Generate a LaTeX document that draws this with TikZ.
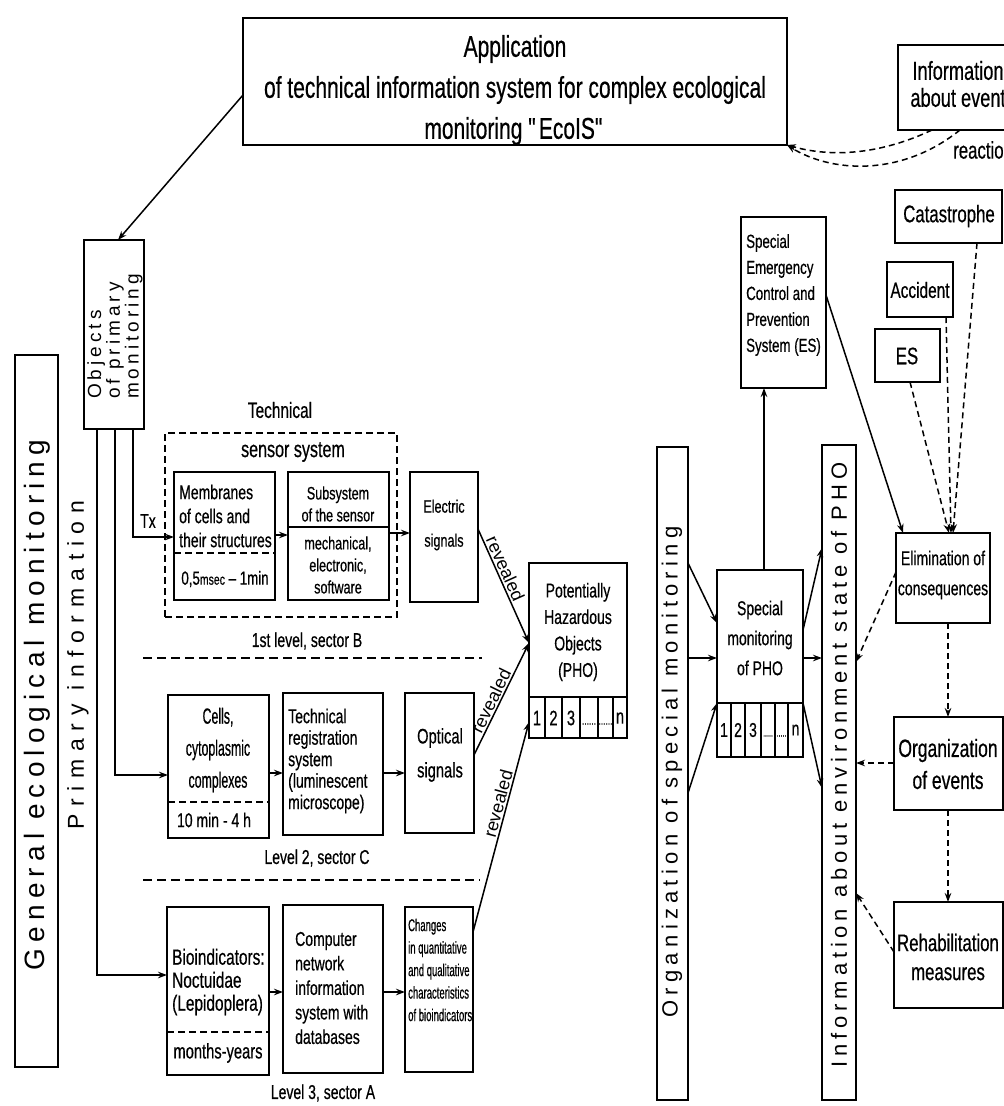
\documentclass[tikz,border=0pt]{standalone}
\usepackage{fontspec}
\setmainfont{Liberation Sans}[FakeStretch=0.7,FakeBold=0.5]
\newfontfamily\wide{Liberation Sans}
\newfontfamily\nrw{Liberation Sans}[FakeStretch=0.56,FakeBold=0.5]
\newfontfamily\spG{Liberation Sans}[LetterSpace=22]
\newfontfamily\spP{Liberation Sans}[LetterSpace=33]
\newfontfamily\spO{Liberation Sans}[LetterSpace=24]
\newfontfamily\spI{Liberation Sans}[LetterSpace=22]
\newfontfamily\spB{Liberation Sans}[LetterSpace=21]
\usetikzlibrary{arrows.meta}
\newcommand\fz[2]{\fontsize{#1}{#2}\selectfont}
\newcommand\bx[6][]{\node[box,#1,minimum width={(#5)-(#3)},minimum height={(#6)-(#4)}] (#2) at ({((#3)+(#5))/2},{((#4)+(#6))/2}) {};}
\tikzset{
  box/.style={draw, line width=2.7pt, inner sep=0pt, outer sep=0pt},
  txt/.style={inner sep=0pt, align=center},
  conn/.style={line width=1.5pt, -{Stealth[length=9pt,width=6.5pt]}},
  dconn/.style={conn, dash pattern=on 6pt off 4pt},
  hsep/.style={line width=2.5pt, dash pattern=on 9pt off 5pt},
  isep/.style={line width=2pt, dash pattern=on 7pt off 4pt},
  rev/.style={font=\wide\fz{18}{18}, inner sep=1.5pt},
}
\begin{document}
\begin{tikzpicture}[x=1pt,y=-1pt]
\useasboundingbox (0,0) rectangle (1004,1106);
\clip (0,0) rectangle (1004,1106);
\fill[white] (0,0) rectangle (1004,1106);

% ---- title and top right
\bx{title}{243}{18}{787}{145}
\node[txt, font=\fz{30}{41}] (title-t) at (515,90) {Application\\of technical information system for complex ecological\\monitoring \textquotedbl EcoIS\textquotedbl};
\bx{info}{898}{45}{1014}{130}
\node[txt, font=\fz{26}{27}] (info-t) at (958,84) {Information\\about event};
\node[txt, anchor=west, font=\fz{24}{24}] (react) at (953,150) {reaction};
\draw[dconn] ([xshift=34pt]info.south west) .. controls (890,150) and (840,160) .. (title.south east);
\draw[dconn] ([xshift=62pt]info.south west) .. controls (900,178) and (830,172) .. (title.south east);

% ---- left column
\bx{obj}{84}{240}{144}{429}
\node[txt, rotate=90, align=left, anchor=west, font=\spB\fz{19}{17.5}] (obj-t) at (115,399) {Objects\\of primary\\monitoring};
\draw[conn] (title.west |- 0,95) -- (obj.north -| 118,0);
\bx{gen}{15}{355}{58}{1067}
\node[txt, rotate=90, font=\spG\fz{28}{28}] (gen-t) at (37,705) {General ecological monitoring};
\node[txt, rotate=90, font=\spP\fz{23}{23}] (prim-t) at (78,665) {Primary information};

% ---- level 1
\node[txt, font=\fz{22}{22}] (tech-t) at (280,410) {Technical};
\bx[dash pattern=on 7pt off 4pt]{sensor}{165}{433}{397}{617}
\node[txt, font=\fz{23}{23}] (sens-t) at (293,452) {sensor system};
\bx{memb}{174}{472}{275}{600}
\draw[isep] (memb.west |- 0,553) -- (memb.east |- 0,553);
\node[txt, align=left, anchor=west, font=\fz{20}{24}] (memb-t) at (179,516) {Membranes\\of cells and\\their structures};
\node[txt, font=\fz{19}{19}] (memb-b) at (225,579) {0,5{\fz{15}{15}msec} – 1min};
\bx{subs}{288}{472}{389}{600}
\draw[line width=1.5pt] (subs.west |- 0,527) -- (subs.east |- 0,527);
\node[txt, font=\fz{18}{22}] (subs-t) at (338,504) {Subsystem\\of the sensor};
\node[txt, font=\fz{18}{22}] (subs-b) at (338,565) {mechanical,\\electronic,\\software};
\bx{elec}{410}{472}{478}{602}
\node[txt, font=\fz{18}{34}] (elec-t) at (444,525) {Electric\\signals};
\draw[conn] (obj.south -| 133,0) |- (memb.west |- 0,537);
\node[txt, font=\fz{20}{20}] (tx) at (148,521) {Tx};
\draw[conn] (memb.east |- 0,535) -- (subs.west |- 0,535);
\draw[conn] (subs.east |- 0,533) -- (elec.west |- 0,533);
\node[txt, font=\fz{20}{20}] (lev1) at (307,641) {1st level, sector B};
\draw[hsep] (143,658) -- (482,658);

% ---- level 2
\bx{cells}{168}{695}{269}{838}
\draw[isep] (cells.west |- 0,802) -- (cells.east |- 0,802);
\node[txt, font=\nrw\fz{22}{32}] (cells-t) at (218,750) {Cells,\\cytoplasmic\\complexes};
\node[txt, font=\fz{20}{20}] (cells-b) at (214,820) {10 min - 4 h};
\bx{treg}{283}{693}{383}{835}
\node[txt, align=left, anchor=west, font=\fz{20}{21.5}] (treg-t) at (288,761) {Technical\\registration\\system\\(luminescent\\microscope)};
\bx{opt}{405}{693}{474}{833}
\node[txt, font=\fz{21}{34}] (opt-t) at (440,755) {Optical\\signals};
\draw[conn] (obj.south -| 115,0) |- (cells.west |- 0,775);
\draw[conn] (cells.east |- 0,773) -- (treg.west |- 0,773);
\draw[conn] (treg.east |- 0,773) -- (opt.west |- 0,773);
\node[txt, font=\fz{20}{20}] (lev2) at (317,858) {Level 2, sector C};
\draw[hsep] (143,880) -- (480,880);

% ---- level 3
\bx{bio}{167}{907}{269}{1075}
\draw[isep] (bio.west |- 0,1032) -- (bio.east |- 0,1032);
\node[txt, align=left, anchor=west, font=\fz{22}{23}] (bio-t) at (172,982) {Bioindicators:\\Noctuidae\\(Lepidoplera)};
\node[txt, font=\fz{21}{21}] (bio-b) at (218,1053) {months-years};
\bx{comp}{283}{905}{383}{1073}
\node[txt, align=left, anchor=west, font=\fz{20}{24.5}] (comp-t) at (295,988) {Computer\\network\\information\\system with\\databases};
\bx{chg}{405}{907}{473}{1072}
\node[txt, align=left, anchor=west, font=\nrw\fz{17}{22.5}] (chg-t) at (408,970) {Changes\\in quantitative\\and qualitative\\characteristics\\of bioindicators};
\draw[conn] (obj.south -| 97,0) |- (bio.west |- 0,975);
\draw[conn] (bio.east |- 0,992) -- (comp.west |- 0,992);
\draw[conn] (comp.east |- 0,992) -- (chg.west |- 0,992);
\node[txt, font=\fz{20}{20}] (lev3) at (323,1093) {Level 3, sector A};

% ---- PHO
\bx{pho}{529}{563}{627}{697}
\bx{phoc}{529}{697}{627}{738}
\foreach \xx in {545,562,580,598,613} \draw[line width=1.7pt] (phoc.north -| \xx,0) -- (phoc.south -| \xx,0);
\node[txt, font=\fz{20}{26.5}] (pho-t) at (578,632) {Potentially\\Hazardous\\Objects\\(PHO)};
\node[txt, font=\fz{21}{21}] (p1) at (537,718) {1};
\node[txt, font=\fz{21}{21}] (p2) at (553.5,718) {2};
\node[txt, font=\fz{21}{21}] (p3) at (571,718) {3};
\node[txt, font=\fz{12}{12}] (p4) at (589,724) {......};
\node[txt, font=\fz{12}{12}] (p5) at (605.5,724) {......};
\node[txt, font=\fz{21}{21}] (p6) at (620,718) {n};
\draw[conn] (elec.east |- 0,529) -- node[sloped, above, pos=0.38, rev] (rv1) {revealed} (pho.west |- 0,643);
\draw[conn] (opt.east |- 0,755) -- node[sloped, above, pos=0.45, rev] (rv2) {revealed} (pho.west |- 0,643);
\draw[conn] (chg.east |- 0,932) -- node[sloped, above, pos=0.6, rev] (rv3) {revealed} (phoc.west |- 0,722);

% ---- right middle
\bx{esc}{741}{217}{826}{388}
\node[txt, align=left, anchor=west, font=\fz{19}{26}] (esc-t) at (746,295) {Special\\Emergency\\Control and\\Prevention\\System (ES)};
\bx{sm}{717}{570}{803}{703}
\bx{smc}{717}{703}{803}{757}
\foreach \xx in {731,745,761,775,788} \draw[line width=1.7pt] (smc.north -| \xx,0) -- (smc.south -| \xx,0);
\node[txt, font=\fz{20}{30}] (sm-t) at (760,638) {Special\\monitoring\\of PHO};
\node[txt, font=\fz{20}{20}] (s1) at (724,730) {1};
\node[txt, font=\fz{20}{20}] (s2) at (738,730) {2};
\node[txt, font=\fz{20}{20}] (s3) at (753,730) {3};
\node[txt, font=\fz{10}{10}] (s4) at (768,736) {.....};
\node[txt, font=\fz{10}{10}] (s5) at (781.5,736) {.....};
\node[txt, font=\fz{20}{20}] (s6) at (795.5,730) {n};
\bx{org}{657}{447}{688}{1100}
\node[txt, rotate=90, font=\spO\fz{22}{22}] (org-t) at (672,772) {Organization of special monitoring};
\bx{infe}{822}{445}{856}{1100}
\node[txt, rotate=90, font=\spI\fz{22}{22}] (infe-t) at (839,765) {Information about environment state of PHO};
\draw[conn] (org.east |- 0,563) -- (sm.west |- 0,623);
\draw[conn] (org.east |- 0,658) -- (sm.west |- 0,658);
\draw[conn] (org.east |- 0,793) -- (smc.north west);
\draw[conn] (sm.east |- 0,630) -- (infe.west |- 0,548);
\draw[conn] (sm.east |- 0,658) -- (infe.west |- 0,658);
\draw[conn] (smc.north east) -- (infe.west |- 0,788);
\draw[conn] (sm.north -| 764,0) -- (esc.south -| 764,0);

% ---- right column
\bx{cat}{895}{190}{1002}{243}
\node[txt, font=\fz{24}{24}] (cat-t) at (949,216) {Catastrophe};
\bx{acc}{887}{262}{953}{317}
\node[txt, font=\fz{22}{22}] (acc-t) at (920,290) {Accident};
\bx{es}{875}{329}{940}{382}
\node[txt, font=\fz{24}{24}] (es-t) at (907,356) {ES};
\bx{elim}{896}{533}{990}{623}
\node[txt, font=\fz{20}{30}] (elim-t) at (943,575) {Elimination of\\consequences};
\bx{orge}{894}{717}{1003}{810}
\node[txt, font=\fz{25}{32}] (orge-t) at (948,764) {Organization\\of events};
\bx{reh}{894}{902}{1003}{1008}
\node[txt, font=\fz{24}{29}] (reh-t) at (948,957) {Rehabilitation\\measures};
\draw[conn] (esc.east |- 0,295) -- (elim.north -| 903,0);
\draw[dconn] (cat.south -| 977,0) -- (elim.north -| 953,0);
\draw[dconn] (acc.south -| 946,0) -- (elim.north -| 951,0);
\draw[dconn] (es.south -| 910,0) -- (elim.north -| 949,0);
\draw[dconn] (elim.west |- 0,572) -- (infe.east |- 0,662);
\draw[dconn] (elim.south -| 948,0) -- (orge.north -| 948,0);
\draw[dconn] (orge.west |- 0,763) -- (infe.east |- 0,763);
\draw[dconn] (orge.south -| 948,0) -- (reh.north -| 948,0);
\draw[dconn] (reh.west |- 0,952) -- (infe.east |- 0,893);
\end{tikzpicture}
\end{document}
